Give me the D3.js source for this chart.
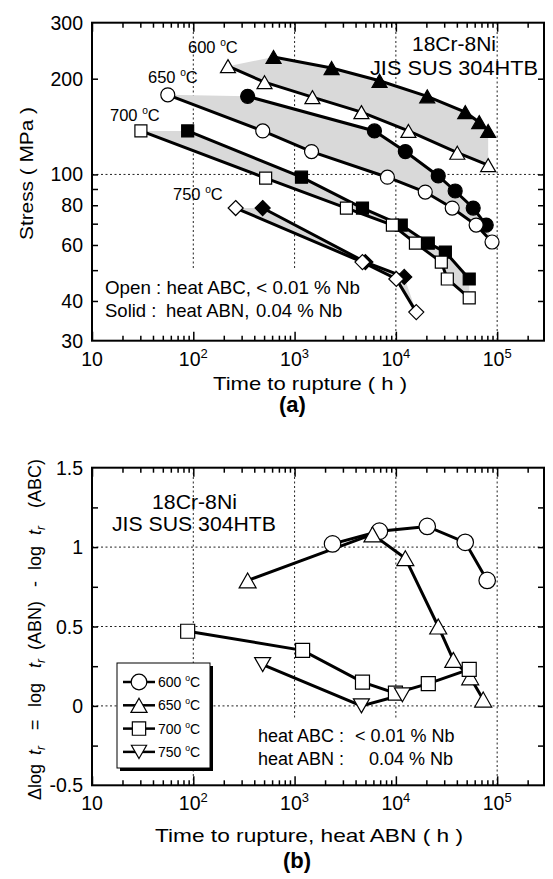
<!DOCTYPE html>
<html>
<head>
<meta charset="utf-8">
<script src="https://cdn.jsdelivr.net/npm/d3@7"></script>
<style>
body { margin: 0; background: #fff; }
svg text { font-family: "Liberation Sans", Arial, sans-serif; fill: #000; }
</style>
</head>
<body>
<svg id="chart" width="553" height="879"></svg>
<script>
// (a) creep rupture data, [time to rupture (h), stress (MPa)]
// heat ABC (< 0.01 % Nb) drawn open, heat ABN (0.04 % Nb) drawn solid
var abc600 = [[220, 219], [505, 195], [1500, 175], [4570, 157], [13300, 137], [40400, 117], [81500, 107]];
var abn600 = [[620, 234], [2320, 216], [6900, 197], [20400, 176], [48400, 157], [66500, 146], [81500, 137]];
var abc650 = [[56, 178], [485, 137], [1470, 118], [8250, 98], [19500, 88], [36000, 78.4], [62000, 69.3], [89000, 61.3]];
var abn650 = [[344, 176], [6140, 137], [12400, 118], [26200, 98.9], [38500, 88.7], [58000, 78.4], [78000, 69.3]];
var abc700 = [[30.4, 137], [518, 97.4], [3250, 78.4], [9240, 69.3], [15600, 60.8], [28100, 53], [32200, 46.9], [53000, 40.9]];
var abn700 = [[88, 137], [1170, 98], [4680, 78.4], [11300, 69.3], [20900, 60.8], [30800, 57], [53000, 46.9]];
var abc750 = [[262, 78.4], [4680, 53], [10100, 46.9], [15900, 36.9]];
var abn750 = [[484, 78.4], [5000, 53], [12100, 47.6]];

// (b) difference in log rupture time, [time ABN (h), delta log tr]
var d600 = [[2370, 1.02], [6880, 1.10], [20400, 1.13], [48400, 1.03], [79700, 0.79]];
var d650 = [[344, 0.79], [5870, 1.08], [12400, 0.93], [26200, 0.50], [36900, 0.29], [54200, 0.18], [72800, 0.04]];
var d700 = [[88, 0.47], [1200, 0.35], [4680, 0.15], [9900, 0.08], [20900, 0.14], [53000, 0.23]];
var d750 = [[484, 0.26], [4570, 0.0], [11600, 0.07]];

var temps = ["600", "650", "700", "750"];
var timeDecades = [10, 100, 1000, 10000, 100000];
var stressLabels = [30, 40, 60, 80, 100, 200, 300];
var stressTicks = [40, 50, 60, 70, 80, 90, 100, 200];
var deltaLabels = [-0.5, 0, 0.5, 1, 1.5];
var deltaTicks = [-0.25, 0, 0.25, 0.5, 0.75, 1, 1.25];

var svg = d3.select("#chart");

var x = d3.scaleLog().domain([10, 2.9e5]).range([92, 544]);
var yA = d3.scaleLog().domain([30, 300]).range([340.7, 22.7]);
var yB = d3.scaleLinear().domain([-0.5, 1.5]).range([785.3, 467.7]);

var minorTimes = [];
for (var e = 1; e <= 5; e++) {
	for (var k = 2; k <= 9; k++) {
		if (k * Math.pow(10, e) < 2.9e5) minorTimes.push(k * Math.pow(10, e));
	}
}

var markerShapes = ["circle", "triUp", "square", "triDown"];
var topShapes = ["triUp", "circle", "square", "diamond"];

var markerPath = function(shape, w, h) {
	if (shape === "triUp") return "M0," + (-h / 2) + "L" + (w / 2) + "," + (h / 2) + "L" + (-w / 2) + "," + (h / 2) + "Z";
	if (shape === "triDown") return "M0," + (h / 2) + "L" + (w / 2) + "," + (-h / 2) + "L" + (-w / 2) + "," + (-h / 2) + "Z";
	if (shape === "square") return "M" + (-w / 2) + "," + (-w / 2) + "h" + w + "v" + w + "h" + (-w) + "Z";
	if (shape === "diamond") return "M0," + (-w / 2) + "L" + (w / 2) + ",0L0," + (w / 2) + "L" + (-w / 2) + ",0Z";
	return "M" + (w / 2) + ",0A" + (w / 2) + "," + (w / 2) + " 0 1,1 " + (-w / 2) + ",0A" + (w / 2) + "," + (w / 2) + " 0 1,1 " + (w / 2) + ",0Z";
};

var sizes = {
	a: {circle: [14, 14], triUp: [15, 13], square: [12, 12], diamond: [15, 15]},
	b: {circle: [16.5, 16.5], triUp: [17, 15], square: [14, 14], triDown: [16, 14]}
};

// text stretched to the width it has in the figure
var wideText = function(px, py, fs, len, str) {
	return svg.append("text").attr("x", px).attr("y", py).attr("font-size", fs)
		.attr("textLength", len).attr("lengthAdjust", "spacingAndGlyphs").text(str);
};

var drawFrame = function(yScale, y0, y1, yTicks) {
	var g = svg.append("g");
	var big = d3.axisBottom(x).tickValues(timeDecades).tickSize(-9).tickFormat("");
	var small = d3.axisBottom(x).tickValues(minorTimes).tickSize(-5).tickFormat("");
	g.append("g").attr("transform", "translate(0," + y0 + ")").call(big);
	g.append("g").attr("transform", "translate(0," + y0 + ")").call(small);
	g.append("g").attr("transform", "translate(0," + y1 + ")").call(big.tickSize(9));
	g.append("g").attr("transform", "translate(0," + y1 + ")").call(small.tickSize(5));
	g.append("g").attr("transform", "translate(92,0)").call(d3.axisLeft(yScale).tickValues(yTicks).tickSize(-6).tickFormat(""));
	g.append("g").attr("transform", "translate(544,0)").call(d3.axisRight(yScale).tickValues(yTicks).tickSize(-6).tickFormat(""));
	g.selectAll(".domain").remove();
	g.selectAll(".tick line").attr("stroke", "#000").attr("stroke-width", 1.5);
	svg.append("rect").attr("x", 92).attr("y", y1).attr("width", 544 - 92).attr("height", y0 - y1)
		.attr("fill", "none").attr("stroke", "#000").attr("stroke-width", 2);

	// x tick labels 10, 10^2 ...
	timeDecades.forEach(function(v, i) {
		var t = svg.append("text").attr("x", x(v)).attr("y", y0 + 25).attr("text-anchor", "middle").attr("font-size", 19.5);
		t.append("tspan").text("10");
		if (i > 0) t.append("tspan").attr("font-size", 13).attr("dy", -8).text(i + 1);
	});
};

var grid = function(x1, y1, x2, y2) {
	svg.append("line").attr("x1", x1).attr("y1", y1).attr("x2", x2).attr("y2", y2)
		.attr("stroke", "#222").attr("stroke-width", 1).attr("stroke-dasharray", "2,2.5");
};

var degLabel = function(sel, temp, fs) {
	sel.append("tspan").text(temp + " ");
	sel.append("tspan").attr("font-size", fs * 0.62).attr("dy", -fs * 0.42).text("o");
	sel.append("tspan").attr("dy", fs * 0.42).text("C");
};

// ---------------- (a) ----------------
[100, 1000].forEach(function(v) { grid(x(v), 23, x(v), 270); });
[10000, 100000].forEach(function(v) { grid(x(v), 23, x(v), 340); });
grid(92, yA(100), 544, yA(100));

var abcSets = [abc600, abc650, abc700, abc750];
var abnSets = [abn600, abn650, abn700, abn750];
var lineA = d3.line().x(function(d) { return x(d[0]); }).y(function(d) { return yA(d[1]); });

abcSets.forEach(function(abc, i) {
	var poly = abnSets[i].concat(abc.slice().reverse());
	svg.append("path").attr("d", lineA(poly) + "Z").attr("fill", "#d9d9d9").attr("stroke", "none");
});
abcSets.forEach(function(abc, i) {
	[abc, abnSets[i]].forEach(function(s) {
		svg.append("path").attr("d", lineA(s)).attr("fill", "none").attr("stroke", "#000").attr("stroke-width", 3);
	});
});
abcSets.forEach(function(abc, i) {
	var shape = topShapes[i];
	var sz = sizes.a[shape];
	[[abnSets[i], "#000"], [abc, "#fff"]].forEach(function(pair) {
		svg.selectAll(null).data(pair[0]).enter().append("path")
			.attr("d", markerPath(shape, sz[0], sz[1]))
			.attr("transform", function(d) { return "translate(" + x(d[0]) + "," + yA(d[1]) + ")"; })
			.attr("fill", pair[1]).attr("stroke", "#000").attr("stroke-width", 1.2);
	});
});

svg.append("rect").attr("x", 100).attr("y", 271).attr("width", 268).attr("height", 68).attr("fill", "#fff");
drawFrame(yA, 340.7, 22.7, stressTicks);

stressLabels.forEach(function(v) {
	svg.append("text").attr("x", 83).attr("y", yA(v)).attr("dy", "0.36em").attr("text-anchor", "end")
		.attr("font-size", 19.5).text(v);
});

var tempPosA = [[188, 53], [148, 83], [110, 121], [173, 200]];
temps.forEach(function(t, i) {
	var lab = svg.append("text").attr("x", tempPosA[i][0]).attr("y", tempPosA[i][1]).attr("font-size", 16.5);
	degLabel(lab, t, 16.5);
});

wideText(412, 51, 19.5, 84, "18Cr-8Ni");
wideText(370, 75, 19.5, 168, "JIS SUS 304HTB");

wideText(105, 294, 18.5, 255, "Open : heat ABC, < 0.01 % Nb");
var solid = svg.append("text").attr("y", 317).attr("font-size", 18.5);
solid.append("tspan").attr("x", 105).text("Solid :");
solid.append("tspan").attr("x", 166).text("heat ABN,");
solid.append("tspan").attr("x", 256).text("0.04 % Nb");

wideText(213, 390, 18.5, 194, "Time to rupture  ( h )");
svg.append("text").attr("transform", "translate(33,173.5) rotate(-90)").attr("text-anchor", "middle")
	.attr("font-size", 19).attr("textLength", 133).attr("lengthAdjust", "spacingAndGlyphs").text("Stress  ( MPa )");
svg.append("text").attr("x", 292.5).attr("y", 412).attr("text-anchor", "middle")
	.attr("font-size", 22).attr("font-weight", "bold").text("(a)");

// ---------------- (b) ----------------
grid(x(100), 468, x(100), 784);
[1000, 10000].forEach(function(v) { grid(x(v), 468, x(v), 720); });
grid(x(100000), 468, x(100000), 784);
[0, 0.5, 1].forEach(function(v) { grid(92, yB(v), 544, yB(v)); });

var dSets = [d600, d650, d700, d750];
var lineB = d3.line().x(function(d) { return x(d[0]); }).y(function(d) { return yB(d[1]); });
dSets.forEach(function(s) {
	svg.append("path").attr("d", lineB(s)).attr("fill", "none").attr("stroke", "#000").attr("stroke-width", 3);
});
dSets.forEach(function(s, i) {
	var shape = markerShapes[i];
	var sz = sizes.b[shape];
	svg.selectAll(null).data(s).enter().append("path")
		.attr("d", markerPath(shape, sz[0], sz[1]))
		.attr("transform", function(d) { return "translate(" + x(d[0]) + "," + yB(d[1]) + ")"; })
		.attr("fill", "#fff").attr("stroke", "#000").attr("stroke-width", 1.2);
});

svg.append("rect").attr("x", 250).attr("y", 721).attr("width", 212).attr("height", 63).attr("fill", "#fff");
drawFrame(yB, 785.3, 467.7, deltaTicks);

deltaLabels.forEach(function(v) {
	svg.append("text").attr("x", 83).attr("y", yB(v)).attr("dy", "0.36em").attr("text-anchor", "end")
		.attr("font-size", 19.5).text(v);
});

wideText(152, 509, 19.5, 85, "18Cr-8Ni");
wideText(112, 531, 19.5, 164, "JIS SUS 304HTB");

var noteB = [["heat ABC :", "< 0.01 % Nb", 355, 742], ["heat ABN :", "0.04 % Nb", 369, 765]];
noteB.forEach(function(r) {
	var t = svg.append("text").attr("y", r[3]).attr("font-size", 18);
	t.append("tspan").attr("x", 258).text(r[0]);
	t.append("tspan").attr("x", r[2]).text(r[1]);
});

// legend
var lg = svg.append("g").attr("transform", "translate(117,663)");
lg.append("rect").attr("x", 3).attr("y", 3).attr("width", 93).attr("height", 105).attr("fill", "#000");
lg.append("rect").attr("x", 0).attr("y", 0).attr("width", 93).attr("height", 105)
	.attr("fill", "#fff").attr("stroke", "#000").attr("stroke-width", 1);
temps.forEach(function(t, i) {
	var yy = 19 + i * 23.3;
	var shape = markerShapes[i];
	lg.append("line").attr("x1", 6).attr("x2", 38).attr("y1", yy).attr("y2", yy)
		.attr("stroke", "#000").attr("stroke-width", 2.5);
	var sz = sizes.b[shape];
	lg.append("path").attr("d", markerPath(shape, sz[0] * 0.95, sz[1] * 0.95))
		.attr("transform", "translate(22," + yy + ")")
		.attr("fill", "#fff").attr("stroke", "#000").attr("stroke-width", 1.2);
	var lab = lg.append("text").attr("x", 41).attr("y", yy + 5).attr("font-size", 14);
	degLabel(lab, t, 14);
});

wideText(155, 842, 18.5, 308, "Time to rupture, heat ABN  ( h )");

// rotated y title, pieces placed along the axis
var yt = svg.append("text").attr("transform", "translate(41,0) rotate(-90)").attr("font-size", 18);
var ytPieces = [["\u0394log", 800], ["t", 755, "r"], ["=", 730], ["log", 707], ["t", 668, "r"], ["(ABN)", 650],
	["-", 587], ["log", 570], ["t", 535, "r"], ["(ABC)", 508]];
ytPieces.forEach(function(p) {
	if (p[2]) {
		yt.append("tspan").attr("x", -p[1]).attr("y", 0).attr("font-style", "italic").text(p[0]);
		yt.append("tspan").attr("dy", 4).attr("font-size", 12).attr("font-style", "italic").text(p[2]);
	} else {
		yt.append("tspan").attr("x", -p[1]).attr("y", 0).text(p[0]);
	}
});

svg.append("text").attr("x", 297).attr("y", 868).attr("text-anchor", "middle")
	.attr("font-size", 22).attr("font-weight", "bold").text("(b)");
</script>
</body>
</html>
